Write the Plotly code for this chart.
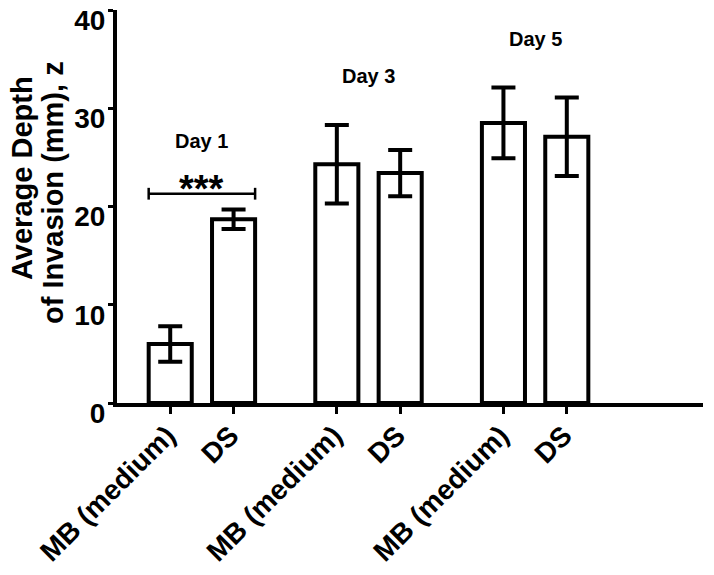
import plotly.graph_objects as go

# ---- data ----
days = ["Day 1", "Day 3", "Day 5"]
groups = ["MB (medium)", "DS"]
means = [6.0, 18.7, 24.3, 23.4, 28.5, 27.1]
errors = [1.8, 1.0, 4.0, 2.35, 3.6, 4.0]
y_ticks = [0, 10, 20, 30, 40]
sig_label = "***"
sig_level = 21.3
y_title_lines = ["Average Depth", "of Invasion (mm), z"]

# ---- layout helpers (positions) ----
group_gap = 2.63
bar_w = 0.68
xpos = [g * group_gap + m for g in range(len(days)) for m in range(len(groups))]
tick_text = [grp for _ in days for grp in groups]

FONT = "Arial, Liberation Sans, sans-serif"
W, H = 714, 575
ML, MR, MT, MB = 117, 11, 10, 172
PW, PH = W - ML - MR, H - MT - MB

fig = go.Figure()
fig.add_trace(go.Bar(
    x=xpos, y=means, width=bar_w,
    marker=dict(color="white", line=dict(color="black", width=4)),
    error_y=dict(type="data", array=errors, visible=True,
                 color="black", thickness=4, width=12),
    showlegend=False,
))

# significance bracket between the two Day 1 bars
x0 = xpos[0] - bar_w / 2
x1 = xpos[1] + bar_w / 2
cap = 0.6
fig.add_trace(go.Scatter(
    x=[x0, x0, None, x0, x1, None, x1, x1],
    y=[sig_level - cap, sig_level + cap, None, sig_level, sig_level, None,
       sig_level - cap, sig_level + cap],
    mode="lines", line=dict(color="black", width=2.5),
    showlegend=False, hoverinfo="skip",
))

annotations = [
    dict(x=(x0 + x1) / 2, y=sig_level, text="<b>" + sig_label + "</b>",
         showarrow=False, yanchor="middle", yshift=5,
         font=dict(family=FONT, size=38, color="black")),
]
# y-axis title, two lines (pixel centres converted to paper coords)
title_px = [(22, 178), (53, 193)]
for (px, py), line in zip(title_px, y_title_lines):
    annotations.append(dict(
        x=(px - ML) / PW, y=(MT + PH - py) / PH, xref="paper", yref="paper",
        text="<b>" + line + "</b>", textangle=-90, showarrow=False,
        xanchor="center", yanchor="middle",
        font=dict(family=FONT, size=29, color="black")))

day_heights = [26.7, 33.3, 37.0]
for g, d in enumerate(days):
    cx = (xpos[2 * g] + xpos[2 * g + 1]) / 2
    annotations.append(dict(
        x=cx, y=day_heights[g], text="<b>" + d + "</b>", showarrow=False,
        font=dict(family=FONT, size=20, color="black")))

fig.update_layout(
    width=W, height=H,
    margin=dict(l=ML, r=MR, t=MT, b=MB),
    plot_bgcolor="white", paper_bgcolor="white",
    font=dict(family=FONT, color="black"),
    annotations=annotations,
    xaxis=dict(
        range=[-0.84, 8.41], automargin=False,
        tickvals=xpos, ticktext=["<b>" + t + "</b>" for t in tick_text],
        tickangle=-45, ticks="outside", ticklen=7, tickwidth=3, tickcolor="black",
        ticklabelstandoff=-6, ticklabelshift=-3,
        tickfont=dict(family=FONT, size=28, color="black"),
        showline=True, linewidth=4, linecolor="black",
        showgrid=False, zeroline=False,
    ),
    yaxis=dict(
        range=[0, 40], tickvals=y_ticks, automargin=False,
        ticktext=["<b>%d</b>" % v for v in y_ticks],
        ticks="outside", ticklen=5, tickwidth=3, tickcolor="black",
        ticklabelshift=10, ticklabelstandoff=-3,
        ticklabeloverflow="allow",
        tickfont=dict(family=FONT, size=28, color="black"),
        showline=True, linewidth=4, linecolor="black",
        showgrid=False, zeroline=False,
    ),
)

fig.write_html("out.html", config={"displayModeBar": False},
               post_script="document.body.style.margin='0';")
